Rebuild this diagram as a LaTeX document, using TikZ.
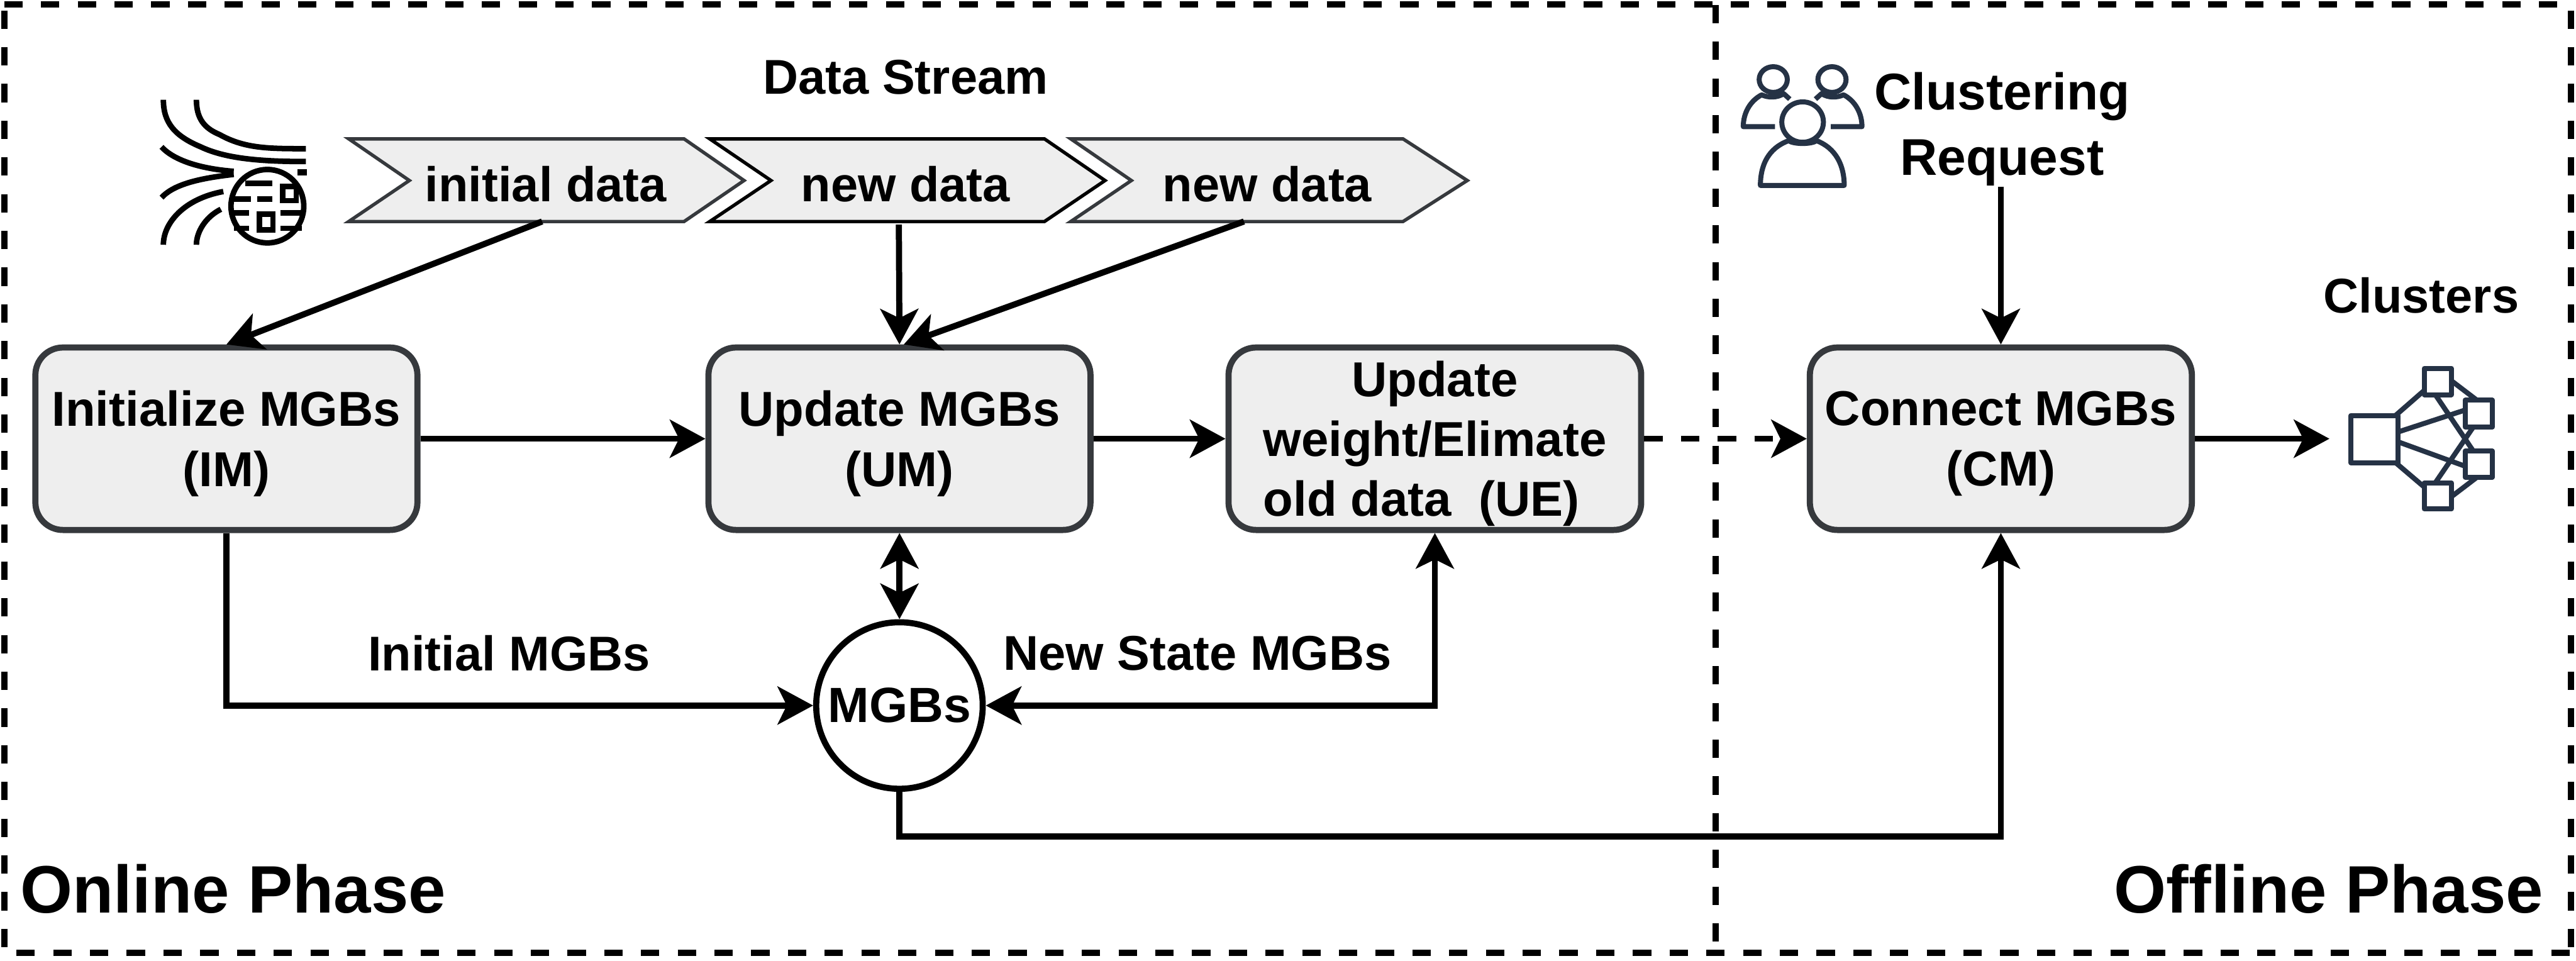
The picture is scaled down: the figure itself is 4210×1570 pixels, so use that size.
\documentclass[tikz,border=0pt]{standalone}
\usepackage{fontspec}
\setmainfont{Liberation Sans}
\usetikzlibrary{arrows.meta,calc}
\definecolor{edgegrey}{HTML}{36393D}
\definecolor{fillgrey}{HTML}{EEEEEE}
\definecolor{icon}{HTML}{253245}
\tikzset{
  x=0.01cm,y=-0.01cm,
  tip/.tip={Stealth[length=5.8mm,width=6.2mm,inset=1.5mm]},
  conn/.style={line width=1mm,-{tip},black},
  both/.style={line width=1mm,{tip}-{tip},black},
  phasebox/.style={line width=1mm,dash pattern=on 3mm off 3mm},
  proc/.style={draw=edgegrey,fill=fillgrey,line width=1mm,rounded corners=4.5mm,minimum width=6.24cm,minimum height=2.98cm,inner sep=0pt},
  boxtext/.style={inner sep=0pt,yshift=-0.08cm,align=center,font=\fontsize{22.8}{27.8}\selectfont\bfseries},
  chev/.style={draw=edgegrey,fill=fillgrey,line width=0.55mm,miter limit=10},
  lab/.style={inner sep=0pt,align=center,font=\fontsize{22.7}{27.6}\selectfont\bfseries},
  reqlab/.style={inner sep=0pt,align=center,font=\fontsize{24}{30.4}\selectfont\bfseries},
  phase/.style={inner sep=0pt,font=\fontsize{31.2}{36}\selectfont\bfseries},
  strm/.style={line width=0.9mm,black},
  ico/.style={line width=0.82mm,icon,line join=round},
}
\begin{document}
\begin{tikzpicture}
\useasboundingbox (0,0) rectangle (4210,1570);
\fill[white] (0,0) rectangle (4210,1570);
% phases
\draw[phasebox] (7,7) -- (4202,7);
\draw[phasebox] (7,17) -- (7,1557);
\draw[phasebox] (27,1557) -- (4202,1557);
\draw[phasebox] (4202,17) -- (4202,1557);
\draw[phasebox] (2804,8) -- (2804,1557);
% stream icon
\begin{scope}[strm]
\draw (267,163) .. controls (267,200) and (285,222) .. (328,240) .. controls (370,260) and (430,264) .. (500,264);
\draw (321,163) .. controls (321,195) and (335,210) .. (359,220) .. controls (400,243) and (440,243) .. (500,243);
\draw (264,240) .. controls (285,263) and (330,276) .. (382,280);
\draw (264,323) .. controls (285,300) and (330,291) .. (382,285);
\draw (267,400) .. controls (267,365) and (300,325) .. (365,313);
\draw (321,400) .. controls (321,380) and (335,355) .. (361,342);
\draw (437,337) ellipse [x radius=59.5,y radius=60];
\fill (486,277) rectangle (502,287);
\draw (401,300) -- (445,300);
\draw (462,305) rectangle (484,328);
\draw (382,325) -- (410,325);
\draw (420,325) -- (445,325);
\draw (382,348) -- (407,348);
\draw (424,350) rectangle (446,376);
\draw (458,348) -- (493,348);
\draw (382,373) -- (407,373);
\draw (458,373) -- (493,373);
\end{scope}
% chevrons
\draw[chev] (570,227) -- (1118,227) -- (1216,295) -- (1118,362) -- (570,362) -- (669,295) -- cycle;
\draw[chev,draw=black] (1160,227) -- (1707,227) -- (1806,295) -- (1707,362) -- (1160,362) -- (1260,295) -- cycle;
\draw[chev] (1750,227) -- (2293,227) -- (2398,295) -- (2293,362) -- (1750,362) -- (1849,295) -- cycle;
\node[lab] (t1) at (892,301) {initial data};
\node[lab] (t2) at (1480,301) {new data};
\node[lab] (t3) at (2071,301) {new data};
\node[lab] (ds) at (1480,126) {Data Stream};
\coordinate (c1) at (886,362);
\coordinate (c2) at (1469,367);
\coordinate (c3) at (2033,362);
% boxes
\node[proc,label={[boxtext]center:Initialize MGBs\\(IM)}] (im) at (370,717) {};
\node[proc,label={[boxtext]center:Update MGBs\\(UM)}] (um) at (1470,717) {};
\node[proc,minimum width=6.74cm,label={[boxtext]center:Update\\weight/Elimate\\old data\ \ (UE)\kern0.44cm}] (ue) at (2345,717) {};
\node[proc,label={[boxtext]center:Connect MGBs\\(CM)}] (cm) at (3270,717) {};
\node[circle,draw=black,fill=white,line width=1mm,minimum size=2.72cm,inner sep=0pt,font=\fontsize{23}{27.6}\selectfont\bfseries] (mgb) at (1470,1153) {MGBs};
% users icon
\begin{scope}[ico]
\draw (2898,130) ellipse [x radius=23,y radius=21];
\draw (2994,130) ellipse [x radius=23,y radius=21];
\draw (2901,207) -- (2849,207) .. controls (2849,185) and (2860,165) .. (2879,155) .. controls (2890,160) and (2905,160) .. (2915,153) -- (2925,162);
\draw (2992,207) -- (3043,207) .. controls (3043,185) and (3032,165) .. (3013,155) .. controls (3002,160) and (2987,160) .. (2977,153) -- (2967,162);
\draw (2946,199.5) ellipse [x radius=34,y radius=33];
\draw (2877,303) -- (3014,303) .. controls (3014,270) and (3000,242) .. (2969,230) .. controls (2960,236) and (2932,236) .. (2923,230) .. controls (2890,242) and (2877,270) .. (2877,303) -- cycle;
\end{scope}
\node[reqlab] (req) at (3272,211) {Clustering\\Request};
\coordinate (reqb) at (3270,305);
% network icon
\node[lab] (cl) at (3957,483) {Clusters};
\begin{scope}[ico]
\foreach \xa/\ya/\xb/\yb in {3842/679/3919/756,3962/602/4006/645,4029/654/4073/698,4029/737/4073/780,3962/789/4006/832}{
  \draw (\xa,\ya) rectangle (\xb,\yb);
}
\draw (3915,679) -- (3962,638);
\draw (3919,706) -- (4029,670);
\draw (3919,722) -- (4029,762);
\draw (3915,756) -- (3962,796);
\draw (3980,645) -- (4042,737);
\draw (4042,698) -- (3980,789);
\draw (4006,622) -- (4048,654);
\draw (4006,812) -- (4048,780);
\end{scope}
\coordinate (netw) at (3807,717);
% connectors
\draw[conn] (c1) -- (im.north);
\draw[conn] (c2) -- (um.north);
\coordinate (umn) at ($(um.north)+(7,0)$);
\draw[conn] (c3) -- (umn);
\draw[conn] (im) -- (um);
\draw[conn] (um) -- (ue);
\draw[conn,dash pattern=on 3mm off 3mm] (ue) -- (cm);
\draw[conn] (cm) -- (netw);
\draw[conn] (reqb) -- (cm.north);
\draw[both] (um) -- (mgb);
\draw[conn] (im.south) |- (mgb.west);
\draw[both] (ue.south) |- (mgb.east);
\draw[conn] (mgb.south) -- (1470,1367) -| (cm.south);
% labels
\node[lab] (l1) at (832,1068) {Initial MGBs};
\node[lab] (l2) at (1957,1068) {New State MGBs};
\node[phase] (on) at (381,1453) {Online Phase};
\node[phase] (off) at (3806,1453) {Offline Phase};
\end{tikzpicture}
\end{document}
